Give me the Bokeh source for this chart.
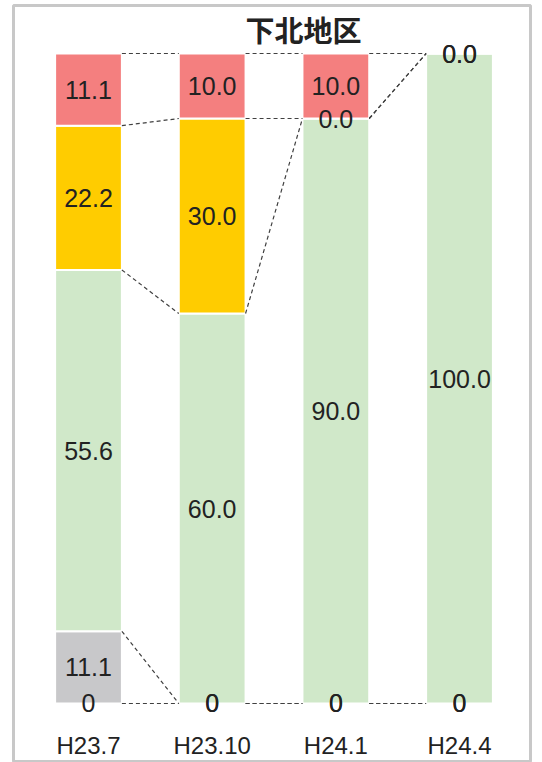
import numpy as np
from bokeh.plotting import figure
from bokeh.models import Range1d, FixedTicker, Label, ColumnDataSource
from bokeh.core.properties import value
from bokeh.embed import file_html
from bokeh.resources import INLINE

categories = ["H23.7", "H23.10", "H24.1", "H24.4"]
# series from bottom to top
s_base = [0, 0, 0, 0]
s_gray = [11.1, 0, 0, 0]
s_green = [55.6, 60.0, 90.0, 100.0]
s_yellow = [22.2, 30.0, 0.0, 0.0]
s_red = [11.1, 10.0, 10.0, 0.0]
title_text = "下北地区"

series = [s_base, s_gray, s_green, s_yellow, s_red]
colors = ["#C8C8CA", "#C8C8CA", "#D0E8C9", "#FFCC00", "#F47F7F"]
general_fmt = [True, True, False, False, False]

FONT = "'Liberation Sans Narrow', 'Arial Narrow', 'Liberation Sans', sans-serif"
W = 0.54

p = figure(width=534, height=762, output_backend="svg", toolbar_location=None,
           x_range=Range1d(-0.6065, 3.574), y_range=Range1d(-9.077, 107.385),
           min_border_left=13, min_border_right=4, min_border_top=5, min_border_bottom=0)
p.outline_line_color = "#C8C8C8"
p.outline_line_width = 3
p.xgrid.visible = False
p.ygrid.visible = False
p.yaxis.visible = False

x = np.arange(len(categories))
bottoms = np.zeros(len(categories))
tops_all = []
lab_x, lab_y, lab_t = [], [], []
for vals, col, gen in zip(series, colors, general_fmt):
    vals = np.array(vals, dtype=float)
    tops = bottoms + vals
    src = ColumnDataSource(dict(x=x, bottom=bottoms, top=tops))
    if vals.sum() > 0:
        p.vbar(x="x", bottom="bottom", top="top", width=W, source=src,
               fill_color=col, line_color="white", line_width=2)
    for i, v in enumerate(vals):
        if gen:
            lab_t.append("0" if v == 0 else f"{v:.1f}")
        else:
            lab_t.append(f"{v:.1f}")
        lab_x.append(x[i])
        lab_y.append((bottoms[i] + tops[i]) / 2)
    tops_all.append(tops)
    bottoms = tops

# series connector lines
x0s, y0s, x1s, y1s = [], [], [], []
for tops in tops_all:
    for i in range(len(categories) - 1):
        x0s.append(x[i] + W / 2); y0s.append(tops[i])
        x1s.append(x[i + 1] - W / 2); y1s.append(tops[i + 1])
p.segment(x0=x0s, y0=y0s, x1=x1s, y1=y1s, line_color="#404040",
          line_width=1.2, line_dash="4 3")

p.text(x=lab_x, y=lab_y, text=lab_t, text_align="center", text_baseline="middle",
       text_font=value(FONT), text_font_size="25px", text_color="#222222")

p.xaxis.ticker = FixedTicker(ticks=list(x))
p.xaxis.major_label_overrides = {int(i): c for i, c in zip(x, categories)}
p.xaxis.fixed_location = -2.3
p.xaxis.axis_line_color = None
p.xaxis.major_tick_line_color = None
p.xaxis.minor_tick_line_color = None
p.xaxis.major_label_standoff = 8
p.xaxis.major_label_text_font = FONT
p.xaxis.major_label_text_font_size = "24px"
p.xaxis.major_label_text_color = "#222222"

p.add_layout(Label(x=1.738, y=103.8, text=title_text, text_align="center",
                   text_baseline="middle", text_font="Noto Sans CJK JP",
                   text_font_style="bold", text_font_size="29px",
                   text_color="#222222"))

open("out.html", "w").write(file_html(p, INLINE))
